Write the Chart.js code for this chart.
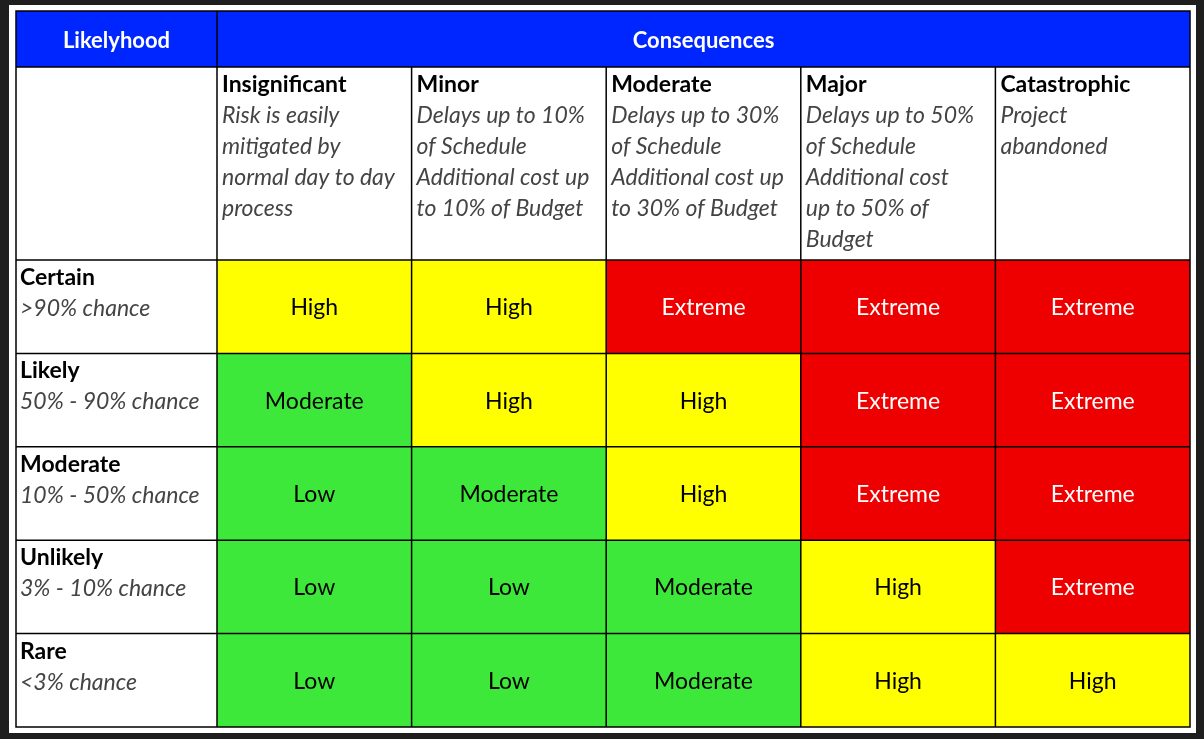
<!DOCTYPE html>
<html><head><meta charset="utf-8">
<script src="https://cdn.jsdelivr.net/npm/chart.js@4"></script>
<style>html,body{margin:0;padding:0;background:#1e1e1e;}#wrap{position:absolute;left:0;top:0;width:1204px;height:739px;}</style>
</head><body><div id="wrap"><canvas id="c" width="1204" height="739"></canvas></div>
<script>
const consequences = ["Insignificant","Minor","Moderate","Major","Catastrophic"];
const consequenceNotes = [
  ["Risk is easily","mitigated by","normal day to day","process"],
  ["Delays up to 10%","of Schedule","Additional cost up","to 10% of Budget"],
  ["Delays up to 30%","of Schedule","Additional cost up","to 30% of Budget"],
  ["Delays up to 50%","of Schedule","Additional cost","up to 50% of","Budget"],
  ["Project","abandoned"]
];
const likelihoods = ["Certain","Likely","Moderate","Unlikely","Rare"];
const likelihoodNotes = [">90% chance","50% - 90% chance","10% - 50% chance","3% - 10% chance","<3% chance"];
const ratings = [
  ["High","High","Extreme","Extreme","Extreme"],
  ["Moderate","High","High","Extreme","Extreme"],
  ["Low","Moderate","High","Extreme","Extreme"],
  ["Low","Low","Moderate","High","Extreme"],
  ["Low","Low","Moderate","High","High"]
];
const levelColors = {Extreme:"#ee0000",High:"#ffff00",Moderate:"#3ee83a",Low:"#3ee83a"};
const levelText = {Extreme:"#ffffff",High:"#000000",Moderate:"#000000",Low:"#000000"};
const FONT = "Lato, 'Open Sans', sans-serif";

const datasets = likelihoods.map((l,r)=>({
  label:l,
  data: consequences.map(()=>1),
  backgroundColor: ratings[r].map(v=>levelColors[v]),
  borderWidth:0, barPercentage:1, categoryPercentage:1, stack:"s"
}));

const T = {left:16, top:11, right:1190, bottom:727, head:67};

const tablePlugin = {
  id:"table",
  beforeDraw(chart){
    const ctx=chart.ctx;
    ctx.save();
    ctx.fillStyle="#1e1e1e"; ctx.fillRect(0,0,1204,739);
    ctx.fillStyle="#ffffff"; ctx.fillRect(9,5,1187,728);
    ctx.restore();
  },
  afterDatasetsDraw(chart){
    const ctx=chart.ctx, xs=chart.scales.x, ys=chart.scales.y, ca=chart.chartArea;
    const colW = xs.getPixelForValue(1)-xs.getPixelForValue(0);
    ctx.save();
    ctx.fillStyle="#0026ff"; ctx.fillRect(T.left,T.top,ca.right-T.left,T.head-T.top);
    ctx.fillStyle="#fff"; ctx.font="bold 22px "+FONT; ctx.textAlign="center"; ctx.textBaseline="middle";
    ctx.fillText("Likelyhood",(T.left+ca.left)/2,(T.top+T.head)/2+2);
    ctx.fillText("Consequences",(ca.left+ca.right)/2,(T.top+T.head)/2+2);
    ctx.font="23px "+FONT;
    ratings.forEach((row,r)=>row.forEach((v,c)=>{
      ctx.fillStyle=levelText[v];
      ctx.fillText(v, xs.getPixelForValue(c), (ys.getPixelForValue(r)+ys.getPixelForValue(r+1))/2+1);
    }));
    ctx.textAlign="left"; ctx.textBaseline="alphabetic";
    consequences.forEach((h,c)=>{
      const x0=xs.getPixelForValue(c)-colW/2+5;
      ctx.fillStyle="#000"; ctx.font="bold 23px "+FONT; ctx.fillText(h,x0,92);
      ctx.fillStyle="#444"; ctx.font="italic 23px "+FONT;
      consequenceNotes[c].forEach((t,i)=>ctx.fillText(t,x0,123+i*31));
    });
    likelihoods.forEach((l,r)=>{
      const y0=ys.getPixelForValue(r);
      ctx.fillStyle="#000"; ctx.font="bold 23px "+FONT; ctx.fillText(l,T.left+4,y0+25);
      ctx.fillStyle="#444"; ctx.font="italic 23px "+FONT; ctx.fillText(likelihoodNotes[r],T.left+4,y0+56);
    });
    ctx.strokeStyle="#000"; ctx.lineWidth=1.5;
    ctx.strokeRect(T.left,T.top,ca.right-T.left,ca.bottom-T.top);
    ctx.beginPath();
    ctx.moveTo(ca.left,T.top); ctx.lineTo(ca.left,ca.bottom);
    ctx.moveTo(T.left,T.head); ctx.lineTo(ca.right,T.head);
    for(let c=1;c<consequences.length;c++){const x=xs.getPixelForValue(c)-colW/2; ctx.moveTo(x,T.head); ctx.lineTo(x,ca.bottom);}
    for(let r=0;r<likelihoods.length;r++){const y=ys.getPixelForValue(r); ctx.moveTo(T.left,y); ctx.lineTo(ca.right,y);}
    ctx.stroke();
    ctx.restore();
  }
};

new Chart(document.getElementById("c"),{
  type:"bar",
  data:{labels:consequences,datasets},
  options:{
    responsive:false, animation:false, devicePixelRatio:1,
    layout:{padding:{left:217,top:260,right:14,bottom:12}},
    plugins:{legend:{display:false},tooltip:{enabled:false}},
    scales:{
      x:{display:false,stacked:true,offset:true},
      y:{display:false,stacked:true,min:0,max:5,reverse:true}
    }
  },
  plugins:[tablePlugin]
});
</script></body></html>
